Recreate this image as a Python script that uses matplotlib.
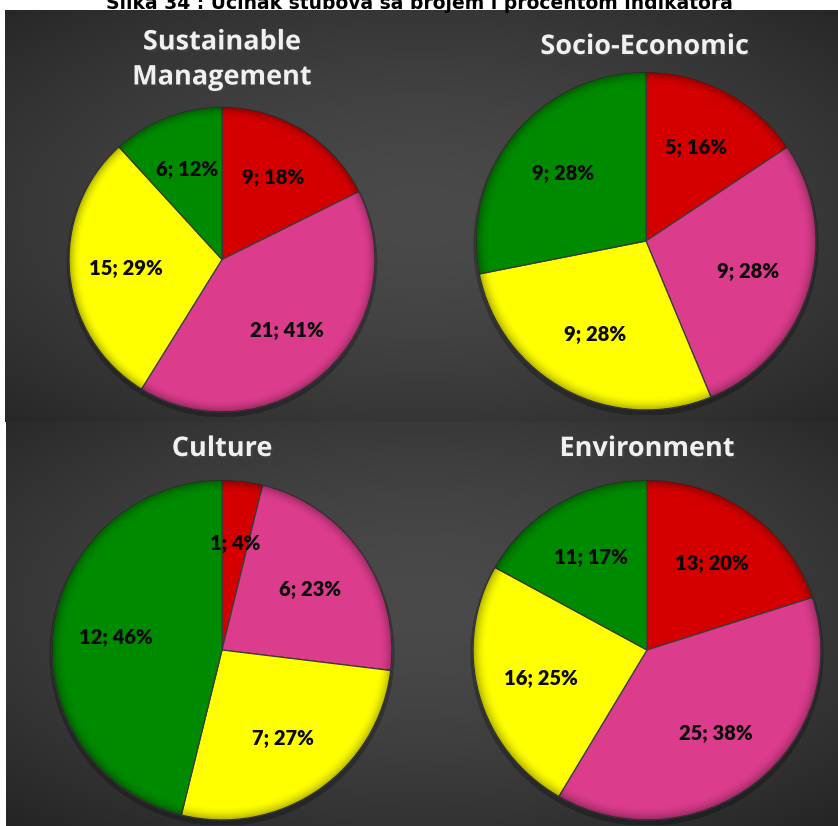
import numpy as np
import matplotlib.pyplot as plt
from matplotlib.patches import Circle, Ellipse
import matplotlib.patheffects as pe

# ---------------- data ----------------
fig_title = "Slika 34 : Učinak stubova sa brojem i procentom indikatora"
chart_titles = ["Sustainable\nManagement", "Socio-Economic", "Culture", "Environment"]
category_colors = ["#D40000", "#DB3C8C", "#FFFF00", "#008A00"]  # red, pink, yellow, green
sustainable_vals = [9, 21, 15, 6]
socio_vals = [5, 9, 9, 9]
culture_vals = [1, 6, 7, 12]
environment_vals = [13, 25, 16, 11]
all_vals = [sustainable_vals, socio_vals, culture_vals, environment_vals]

# ---------------- layout (pixels) ----------------
W, H = 838, 826
fig = plt.figure(figsize=(W / 100, H / 100), dpi=100)
fig.patch.set_facecolor("white")


def add_panel(x0, y0, x1, y1, cx, cy):
    ax = fig.add_axes([x0 / W, 1 - y1 / H, (x1 - x0) / W, (y1 - y0) / H])
    ny, nx = 300, 300
    yy, xx = np.mgrid[0:1:ny * 1j, 0:1:nx * 1j]
    r = np.sqrt((xx - cx) ** 2 + (yy - cy) ** 2) / 0.75
    v = 0.29 - 0.15 * np.clip(r, 0, 1.3) ** 1.6
    img = np.dstack([v, v, v])
    ax.imshow(img, extent=(0, 1, 1, 0), aspect="auto", interpolation="bilinear")
    ax.set_xlim(0, 1)
    ax.set_ylim(1, 0)
    ax.axis("off")
    return ax


add_panel(5, 10, 838, 422, 0.5, 0.5)
add_panel(6, 422, 838, 826, 0.5, 0.45)

fig.text(0.5, 1 - 9 / H, fig_title, ha="center", va="baseline",
         fontsize=13.5, fontweight="bold", family="DejaVu Sans", color="black")

# pie boxes: (cx, cy, rx, ry) in pixels
pie_geom = [(222, 259.5, 153, 152.5), (646, 241, 170, 169),
            (222, 650, 170, 170), (647, 650, 174, 170)]
title_pos = [(222, 60), (645, 47), (222, 449), (647, 449)]

pad = 1.03
for vals, (cx, cy, rx, ry), (tx, ty), ttl in zip(all_vals, pie_geom, title_pos, chart_titles):
    ax = fig.add_axes([(cx - rx * pad) / W, 1 - (cy + ry * pad) / H,
                       2 * rx * pad / W, 2 * ry * pad / H])
    ax.patch.set_alpha(0)
    # soft shadow
    ax.add_patch(Ellipse((0.0, -0.02), 2.03, 2.03, facecolor="black", alpha=0.25,
                         edgecolor="none", zorder=0))
    total = sum(vals)
    wedges, texts, autotexts = ax.pie(
        vals, colors=category_colors, startangle=90, counterclock=False,
        autopct=lambda p, t=total: f"{round(p * t / 100)}; {round(p)}%",
        pctdistance=0.63,
        wedgeprops=dict(edgecolor="#3a3a3a", linewidth=0.9),
        textprops=dict(fontsize=14.5, fontweight="heavy", family="Lato", color="#0a0a0a"))
    # rim shading (bevel)
    n = 300
    yy, xx = np.mgrid[-1:1:n * 1j, -1:1:n * 1j]
    rr = np.sqrt(xx ** 2 + yy ** 2)
    alpha = np.clip((rr - 0.92) / 0.08, 0, 1) ** 2 * 0.3
    shade = np.zeros((n, n, 4))
    shade[..., 3] = alpha
    im = ax.imshow(shade, extent=(-1, 1, -1, 1), zorder=3, interpolation="bilinear")
    im.set_clip_path(Circle((0, 0), 1.0, transform=ax.transData))
    ax.set_xlim(-pad, pad)
    ax.set_ylim(-pad, pad)
    ax.set_aspect("auto")
    ax.axis("off")
    for t in autotexts:
        t.set_zorder(5)

    fig.text(tx / W, 1 - ty / H, ttl, ha="center", va="center", fontsize=19.5,
             fontweight="bold", family="Open Sans", color="#F0F0F0", linespacing=1.45,
             path_effects=[pe.withSimplePatchShadow(offset=(1.5, -1.5), alpha=0.5)])

fig.savefig("out.png", dpi=100, facecolor=fig.get_facecolor())
